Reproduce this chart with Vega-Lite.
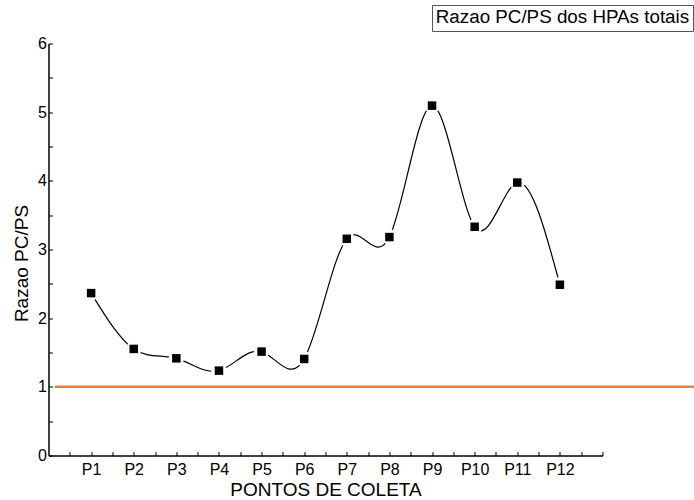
{
  "$schema": "https://vega.github.io/schema/vega-lite/v6.json",
  "width": 554,
  "height": 412,
  "autosize": {"type": "none"},
  "padding": {"left": 48.5, "top": 43.5, "right": 91.5, "bottom": 44.5},
  "background": "white",
  "config": {"view": {"stroke": null}, "font": "Liberation Sans"},
  "datasets": {
    "pontos": [
      {"idx": 1, "ponto": "P1", "razao": 2.365},
      {"idx": 2, "ponto": "P2", "razao": 1.552},
      {"idx": 3, "ponto": "P3", "razao": 1.415},
      {"idx": 4, "ponto": "P4", "razao": 1.236},
      {"idx": 5, "ponto": "P5", "razao": 1.513},
      {"idx": 6, "ponto": "P6", "razao": 1.406},
      {"idx": 7, "ponto": "P7", "razao": 3.156},
      {"idx": 8, "ponto": "P8", "razao": 3.181},
      {"idx": 9, "ponto": "P9", "razao": 5.095},
      {"idx": 10, "ponto": "P10", "razao": 3.331},
      {"idx": 11, "ponto": "P11", "razao": 3.975},
      {"idx": 12, "ponto": "P12", "razao": 2.487}
    ],
    "referencia": [
      {"idx": 0.15, "fim": 15.2, "razao": 1, "serie": "Razao PC/PS dos HPAs totais"}
    ]
  },
  "encoding": {
    "x": {
      "field": "idx", "type": "quantitative",
      "scale": {"domain": [0, 13], "nice": false, "zero": false},
      "axis": {
        "title": "PONTOS DE COLETA",
        "values": [0.5, 1, 1.5, 2, 2.5, 3, 3.5, 4, 4.5, 5, 5.5, 6, 6.5, 7, 7.5, 8, 8.5, 9, 9.5, 10, 10.5, 11, 11.5, 12, 12.5, 13],
        "labelExpr": "(datum.value % 1 === 0 && datum.value >= 1 && datum.value <= 12) ? 'P' + datum.value : ''",
        "grid": false,
        "domainColor": "black", "domainWidth": 1.5,
        "tickColor": "black", "tickWidth": 1, "tickSize": -4,
        "labelFontSize": 16, "labelColor": "black", "labelBaseline": "alphabetic",
        "labelPadding": 23, "labelFlush": false, "labelOverlap": false,
        "titleFontSize": 19, "titleFontWeight": "normal", "titleColor": "black",
        "titleBaseline": "alphabetic", "titleY": 39.5
      }
    },
    "y": {
      "field": "razao", "type": "quantitative",
      "scale": {"domain": [0, 6], "nice": false},
      "axis": {
        "title": "Razao PC/PS",
        "values": [0, 0.5, 1, 1.5, 2, 2.5, 3, 3.5, 4, 4.5, 5, 5.5, 6],
        "labelExpr": "datum.value % 1 === 0 ? format(datum.value, 'd') : ''",
        "grid": false,
        "domainColor": "black", "domainWidth": 1.5,
        "tickColor": "black", "tickWidth": 1, "tickSize": -4,
        "labelFontSize": 16, "labelColor": "black", "labelBaseline": "middle",
        "labelPadding": 6, "labelFlush": false, "labelOverlap": false,
        "titleFontSize": 19, "titleFontWeight": "normal", "titleColor": "black",
        "titleAngle": 270, "titleAlign": "center", "titleBaseline": "alphabetic",
        "titleX": -21.5, "titleY": 219.5
      }
    }
  },
  "layer": [
    {
      "data": {"name": "referencia"},
      "mark": {"type": "rule", "strokeWidth": 2.5},
      "encoding": {
        "x2": {"field": "fim"},
        "stroke": {
          "field": "serie", "type": "nominal",
          "scale": {"range": ["#EE7F30"]},
          "legend": {
            "orient": "none", "legendX": 383.5, "legendY": -38.5,
            "title": null,
            "strokeColor": "#555555", "fillColor": "white", "padding": 3,
            "symbolOpacity": 0, "symbolSize": 0, "symbolStrokeWidth": 0,
            "labelOffset": -18, "labelFontSize": 18.8, "labelColor": "black",
            "labelLimit": 400
          }
        }
      }
    },
    {
      "data": {"name": "pontos"},
      "mark": {"type": "line", "interpolate": "natural", "color": "black", "strokeWidth": 1.2},
      "encoding": {}
    },
    {
      "data": {"name": "pontos"},
      "mark": {"type": "point", "shape": "circle", "filled": true, "color": "white", "opacity": 1, "size": 240},
      "encoding": {}
    },
    {
      "data": {"name": "pontos"},
      "mark": {"type": "point", "shape": "square", "filled": true, "color": "black", "opacity": 1, "size": 72},
      "encoding": {}
    }
  ]
}
